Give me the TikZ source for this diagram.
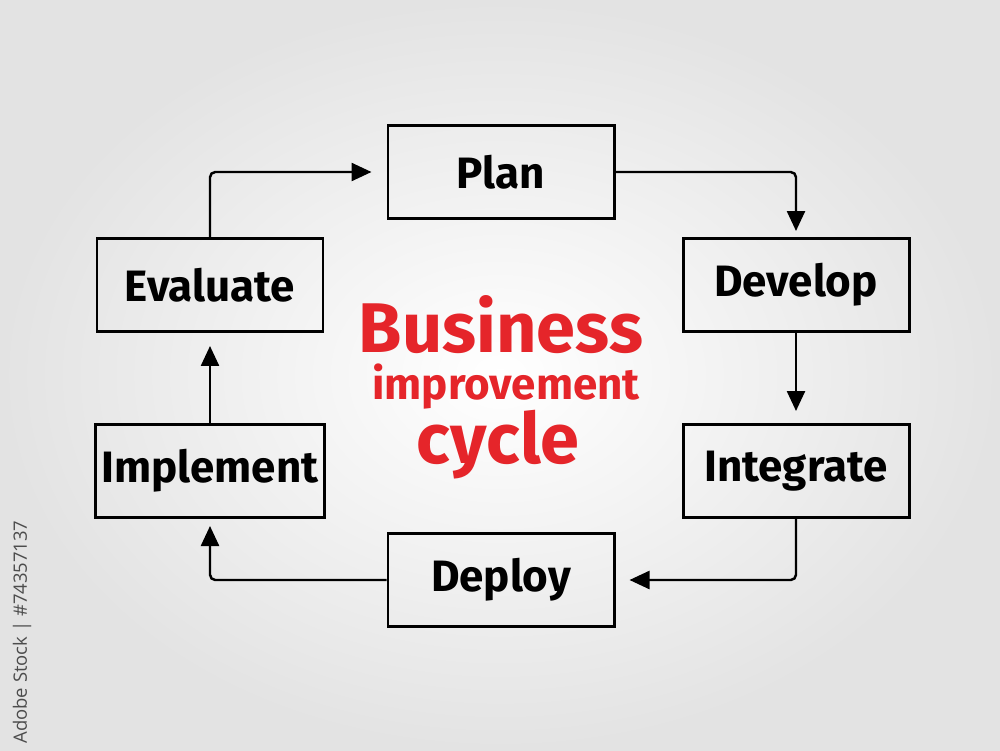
\documentclass[tikz,border=0pt]{standalone}
\usepackage{fontspec}
\setmainfont{Fira Sans}
\newfontfamily\handfont{Fira Sans}
\newfontfamily\stockfont{Open Sans}
\usetikzlibrary{arrows.meta}
\definecolor{cyclered}{HTML}{E5252A}
\definecolor{bgedge}{HTML}{E3E3E3}
\tikzset{
  stage/.style={draw, line width=1.7pt, minimum width=4.52cm, minimum height=1.86cm,
    font=\handfont\bfseries\fontsize{25}{30}\selectfont},
  flow/.style={line width=1.4pt, rounded corners=3pt, -{Triangle[length=4mm,width=3.6mm]}},
  title/.style={text=cyclered, anchor=base, inner sep=0pt}
}

\begin{document}
\begin{tikzpicture}[x=0.2mm,y=-0.2mm]
% Background
\shade[inner color=white, outer color=bgedge] (0,0) rectangle (1000,750);
\useasboundingbox (0,0) rectangle (1000,750);

% Stages of the cycle
\node[stage] (plan) at (501,172) {Plan};
\node[stage] (develop) at (796,285) {Develop};
\node[stage] (integrate) at (796,471) {Integrate};
\node[stage] (deploy) at (501,580) {Deploy};
\node[stage] (implement) at (210,471) {Implement};
\node[stage] (evaluate) at (210,285) {Evaluate};

% Arrows
\draw[flow, shorten >=1.2mm] (plan.east) -| (develop.north);
\draw[flow, shorten >=2.4mm] (develop.south) -- (integrate.north);
\draw[flow, shorten >=2.8mm] (integrate.south) |- (deploy.east);
\draw[flow, shorten >=1.4mm] (deploy.west) -| (implement.south);
\draw[flow, shorten >=2.6mm] (implement.north) -- (evaluate.south);
\draw[flow, shorten >=3mm] (evaluate.north) |- (plan.west);

% Title in the middle
\node[title, font=\handfont\bfseries\fontsize{40}{44}\selectfont] (business) at (501,352) {Business};
\node[title, font=\handfont\bfseries\fontsize{25}{28}\selectfont] (improvement) at (506,399) {improvement};
\node[title, font=\handfont\bfseries\fontsize{40}{44}\selectfont] (cycle) at (498,463) {cycle};

% Stock label
\node[rotate=90, text=black!70, font=\stockfont\fontsize{10.5}{12}\selectfont] (stockid) at (22,632) {Adobe Stock | \#74357137};
\end{tikzpicture}
\end{document}
